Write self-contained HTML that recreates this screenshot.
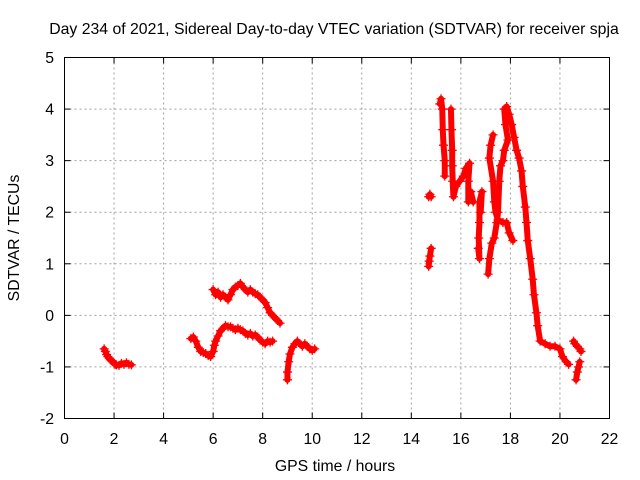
<!DOCTYPE html>
<html><head><meta charset="utf-8"><style>
body{margin:0;background:#fff}
svg{display:block;font-family:"Liberation Sans",sans-serif}
</style></head><body>
<svg id="chart" width="640" height="480" viewBox="0 0 640 480">
<text x="334" y="34" font-size="15.8" text-anchor="middle">Day 234 of 2021, Sidereal Day-to-day VTEC variation (SDTVAR) for receiver spja</text>
<g id="grid"></g>
<g id="ticks"></g>
<g id="marks"></g>
<rect x="64.5" y="57.5" width="545" height="361" fill="none" stroke="#000" stroke-width="1"/>
<text x="335" y="471" font-size="15.8" text-anchor="middle">GPS time / hours</text>
<text transform="translate(19,238) rotate(-90)" font-size="15.8" text-anchor="middle">SDTVAR / TECUs</text>
</svg>
<script>
const xTicks=[0,2,4,6,8,10,12,14,16,18,20,22];
const yTicks=[-2,-1,0,1,2,3,4,5];
const segA=[[1.6,-0.65],[1.65,-0.7],[1.7,-0.76],[1.75,-0.8],[1.8,-0.83],[1.85,-0.86],[1.9,-0.88],[1.95,-0.9],[2.0,-0.93],[2.05,-0.95],[2.1,-0.96],[2.2,-0.97],[2.3,-0.93],[2.4,-0.95],[2.5,-0.92],[2.6,-0.95],[2.7,-0.96]];
const segB=[[5.1,-0.45],[5.2,-0.42],[5.3,-0.5],[5.4,-0.62],[5.5,-0.7],[5.6,-0.72],[5.7,-0.74],[5.8,-0.78],[5.9,-0.8],[6.0,-0.7],[6.05,-0.58],[6.1,-0.5],[6.2,-0.4],[6.3,-0.3],[6.4,-0.25],[6.5,-0.2],[6.6,-0.22],[6.7,-0.22],[6.8,-0.25],[6.9,-0.28],[7.0,-0.25],[7.1,-0.28],[7.2,-0.3],[7.3,-0.35],[7.4,-0.38],[7.5,-0.35],[7.6,-0.4],[7.7,-0.38],[7.8,-0.42],[7.9,-0.48],[8.0,-0.52],[8.1,-0.55],[8.2,-0.5],[8.3,-0.52],[8.4,-0.5]];
const segC=[[6.0,0.5],[6.1,0.4],[6.2,0.45],[6.3,0.35],[6.4,0.4],[6.5,0.35],[6.6,0.3],[6.7,0.4],[6.8,0.5],[6.9,0.55],[7.0,0.58],[7.1,0.62],[7.2,0.55],[7.3,0.5],[7.4,0.45],[7.5,0.5],[7.6,0.45],[7.7,0.42],[7.8,0.4],[7.9,0.35],[8.0,0.3],[8.1,0.25],[8.2,0.15],[8.3,0.05],[8.4,0.0],[8.5,-0.05],[8.6,-0.1],[8.7,-0.15]];
const segD=[[9.0,-1.25],[9.0,-1.1],[9.05,-0.9],[9.1,-0.75],[9.2,-0.62],[9.3,-0.55],[9.4,-0.5],[9.5,-0.55],[9.6,-0.6],[9.7,-0.55],[9.8,-0.6],[9.9,-0.65],[10.0,-0.68],[10.1,-0.65]];
const segE=[[14.7,2.3],[14.75,2.35],[14.8,2.3]];
const segF=[[14.7,0.95],[14.72,1.05],[14.75,1.15],[14.8,1.3]];
const segG=[[15.15,4.1],[15.2,4.2],[15.25,4.0],[15.27,3.6],[15.3,3.3],[15.35,3.0],[15.35,2.7]];
const segH=[[15.6,4.0],[15.62,3.6],[15.65,3.2],[15.65,2.9],[15.67,2.6],[15.7,2.3],[15.8,2.5],[15.95,2.6],[16.1,2.7],[16.2,2.85],[16.35,2.95],[16.3,2.6],[16.3,2.2],[16.4,2.4],[16.5,2.2]];
const segI=[[16.7,1.3],[16.75,1.1],[16.72,1.5],[16.75,1.8],[16.75,2.2],[16.85,2.4],[16.8,2.0]];
const segJ=[[17.1,0.8],[17.15,1.1],[17.25,1.4],[17.35,1.5],[17.45,1.8],[17.5,2.0],[17.55,2.6],[17.6,2.9],[17.7,3.0],[17.75,3.2],[17.9,3.4],[17.8,3.7],[17.75,4.0],[17.85,4.05],[17.95,3.9],[18.05,3.7],[18.15,3.45],[18.25,3.2],[18.35,3.05],[18.45,2.8],[18.5,2.5],[18.6,2.1],[18.65,1.8],[18.7,1.45],[18.8,1.1],[18.9,0.7],[18.95,0.4],[19.05,0.05],[19.1,-0.2],[19.2,-0.5],[19.4,-0.55],[19.6,-0.6],[19.8,-0.6],[20.0,-0.65],[20.1,-0.8],[20.25,-0.9],[20.35,-0.95]];
const segK=[[17.3,3.5],[17.2,3.3],[17.15,3.05],[17.3,2.6],[17.35,2.2],[17.4,2.0],[17.5,1.85],[17.7,1.8],[17.85,1.8],[17.95,1.6],[18.1,1.45]];
const segL=[[20.55,-0.5],[20.6,-0.55],[20.7,-0.6],[20.8,-0.65],[20.85,-0.7]];
const segM=[[20.65,-1.25],[20.7,-1.1],[20.75,-1.0],[20.8,-0.9]];
const series=[segA,segB,segC,segD,segE,segF,segG,segH,segI,segJ,segK,segL,segM];
const X0=64.5,X1=609.5,Y0=418.5,Y1=57.5;
const sx=v=>X0+(v-0)/(22-0)*(X1-X0);
const sy=v=>Y0-(v+2)/(5+2)*(Y0-Y1);
const NS='http://www.w3.org/2000/svg';
const grid=document.getElementById('grid'),ticks=document.getElementById('ticks'),marks=document.getElementById('marks');
function mk(t,a,p){const e=document.createElementNS(NS,t);for(const k in a)e.setAttribute(k,a[k]);p.appendChild(e);return e;}
xTicks.forEach(v=>{const x=sx(v);
 if(v>0&&v<22){const g=mk('line',{x1:x,x2:x,y1:Y1,y2:Y0,stroke:'#a0a0a0','stroke-dasharray':'2,3'},grid);}
 mk('line',{x1:x,x2:x,y1:Y0,y2:Y0-6,stroke:'#000'},ticks);mk('line',{x1:x,x2:x,y1:Y1,y2:Y1+6,stroke:'#000'},ticks);
 const t=mk('text',{x:x,y:444,'font-size':15.8,'text-anchor':'middle'},ticks);t.textContent=v;
 });
yTicks.forEach(v=>{const y=sy(v);
 if(v>-2&&v<5){const g=mk('line',{x1:X0,x2:X1,y1:y,y2:y,stroke:'#a0a0a0','stroke-dasharray':'2,3'},grid);}
 mk('line',{x1:X0,x2:X0+6,y1:y,y2:y,stroke:'#000'},ticks);mk('line',{x1:X1,x2:X1-6,y1:y,y2:y,stroke:'#000'},ticks);
 const t=mk('text',{x:54,y:y+5.5,'font-size':15.8,'text-anchor':'end'},ticks);t.textContent=v;
 });
series.forEach(seg=>{
 const pl=mk('polyline',{points:seg.map(p=>sx(p[0])+','+sy(p[1])).join(' '),fill:'none',stroke:'#f00','stroke-width':6,'stroke-linejoin':'round','stroke-linecap':'round'},marks);
 
 seg.forEach(p=>{const x=sx(p[0]),y=sy(p[1]);
  const m=mk('path',{d:`M${x-4.5},${y}H${x+4.5}M${x},${y-4.5}V${y+4.5}`,stroke:'#f00','stroke-width':1.3},marks);
  });
});
</script>
</body></html>
